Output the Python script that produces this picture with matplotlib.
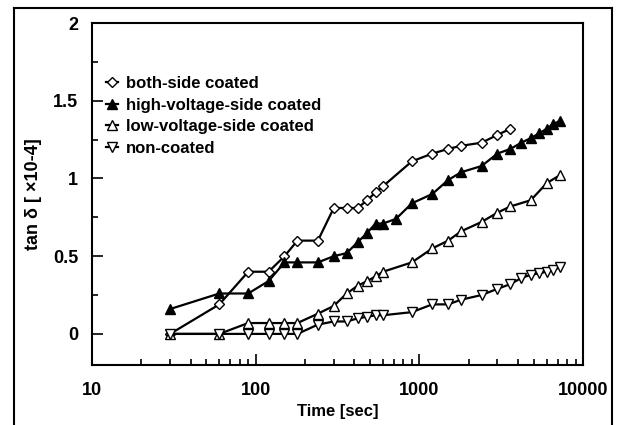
import matplotlib
matplotlib.use("Agg")
import matplotlib.pyplot as plt
from matplotlib.lines import Line2D
from matplotlib.ticker import FixedLocator, NullFormatter

plt.rcParams['font.family'] = ['Liberation Sans', 'DejaVu Sans']

# measurement times [sec] and tan delta [x10-4]
t_both = [30, 60, 90, 120, 150, 180, 240, 300, 360, 420, 480, 540, 600,
          900, 1200, 1500, 1800, 2400, 3000, 3600]
both = [0.0, 0.19, 0.40, 0.40, 0.50, 0.60, 0.60, 0.81, 0.81, 0.81, 0.86,
        0.91, 0.95, 1.11, 1.16, 1.19, 1.21, 1.23, 1.28, 1.32]

t_high = [30, 60, 90, 120, 150, 180, 240, 300, 360, 420, 480, 540, 600, 720,
          900, 1200, 1500, 1800, 2400, 3000, 3600, 4200, 4800, 5400, 6000,
          6600, 7200]
high = [0.16, 0.26, 0.26, 0.34, 0.46, 0.46, 0.46, 0.50, 0.52, 0.59, 0.65,
        0.71, 0.71, 0.74, 0.84, 0.90, 0.99, 1.04, 1.08, 1.16, 1.19, 1.23,
        1.26, 1.29, 1.32, 1.35, 1.37]

t_low = [30, 60, 90, 120, 150, 180, 240, 300, 360, 420, 480, 540, 600,
         900, 1200, 1500, 1800, 2400, 3000, 3600, 4800, 6000, 7200]
low = [0.0, 0.0, 0.07, 0.07, 0.07, 0.07, 0.13, 0.18, 0.26, 0.31, 0.34,
       0.37, 0.40, 0.46, 0.55, 0.60, 0.66, 0.72, 0.78, 0.82, 0.86, 0.97, 1.02]

t_non = [30, 60, 90, 120, 150, 180, 240, 300, 360, 420, 480, 540, 600,
         900, 1200, 1500, 1800, 2400, 3000, 3600, 4200, 4800, 5400, 6000,
         6600, 7200]
non = [0.0, 0.0, 0.0, 0.0, 0.0, 0.0, 0.06, 0.08, 0.08, 0.10, 0.11, 0.12,
       0.12, 0.14, 0.19, 0.19, 0.22, 0.25, 0.29, 0.32, 0.36, 0.38, 0.39,
       0.40, 0.41, 0.43]

fig = plt.figure(figsize=(6.22, 4.25), dpi=100)
ax = fig.add_axes([92 / 622, 1 - 365 / 425, (583 - 92) / 622, (365 - 23) / 425])

line_kw = dict(color='black', lw=1.6, markeredgecolor='black', markeredgewidth=1.0)
ax.plot(t_both, both, marker='D', ms=5, markerfacecolor='white',
        label='both-side coated', **line_kw)
ax.plot(t_high, high, marker='^', ms=7, markerfacecolor='black',
        label='high-voltage-side coated', **line_kw)
ax.plot(t_low, low, marker='^', ms=7, markerfacecolor='white',
        label='low-voltage-side coated', **line_kw)
ax.plot(t_non, non, marker='v', ms=7, markerfacecolor='white',
        label='non-coated', **line_kw)

ax.set_xscale('log')
ax.set_xlim(10, 10000)
ax.set_ylim(-0.2, 2)
ax.set_yticks([0, 0.5, 1, 1.5, 2])
ax.set_yticklabels(['0', '0.5', '1', '1.5', '2'])
ax.yaxis.set_minor_locator(FixedLocator([0.25, 0.75, 1.25, 1.75]))
ax.set_xticks([10, 100, 1000, 10000])
ax.set_xticklabels(['10', '100', '1000', '10000'])
ax.xaxis.set_minor_formatter(NullFormatter())

ax.tick_params(which='both', direction='in', labelsize=13, width=1.2)
ax.tick_params(which='major', length=8)
ax.tick_params(which='minor', length=4)
ax.tick_params(axis='x', pad=12)
ax.tick_params(axis='y', pad=10)
for lab in ax.get_xticklabels() + ax.get_yticklabels():
    lab.set_fontweight('bold')
for s in ax.spines.values():
    s.set_linewidth(1.5)

ax.set_xlabel('Time [sec]', fontsize=12, fontweight='bold', labelpad=4)
ax.set_ylabel('tan δ [ ×10-4]', fontsize=13, fontweight='bold', labelpad=8)

ax.legend(loc='upper left', bbox_to_anchor=(0.015, 0.865), frameon=False,
          handlelength=0.7, handletextpad=0.5, labelspacing=0.4,
          borderaxespad=0, prop={'size': 12, 'weight': 'bold'})

# outer frame of the figure
for xs, ys in [([14 / 622, 14 / 622], [0, 1 - 8 / 425]),
               ([14 / 622, 612 / 622], [1 - 8 / 425, 1 - 8 / 425]),
               ([612 / 622, 612 / 622], [0, 1 - 8 / 425])]:
    fig.add_artist(Line2D(xs, ys, color='black', lw=1.5))

fig.savefig('out.png', dpi=100)
